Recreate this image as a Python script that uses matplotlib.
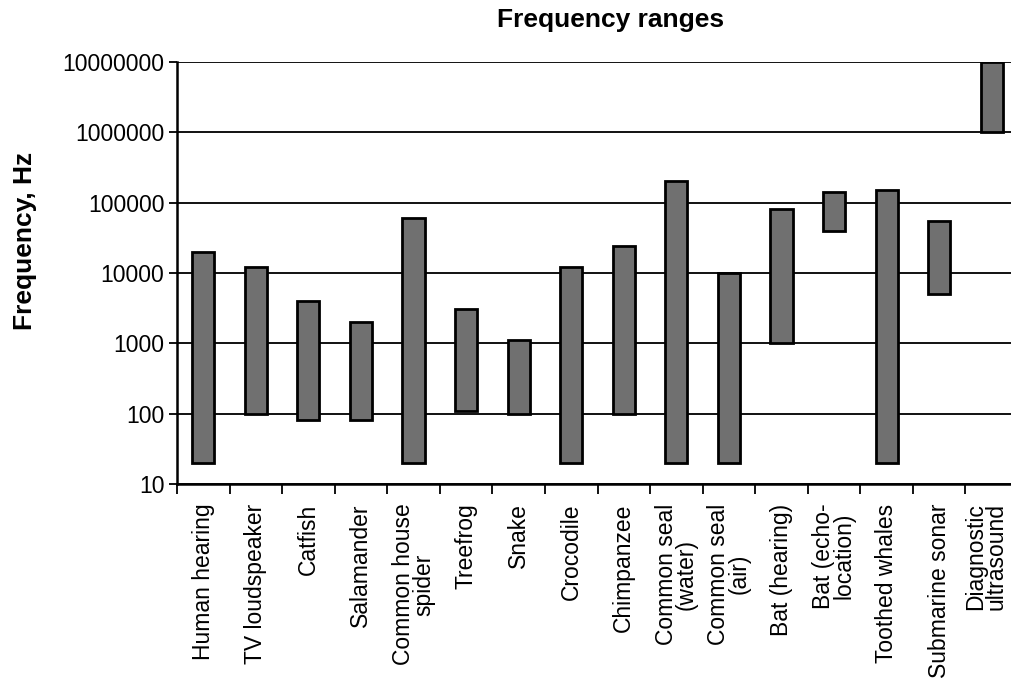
import numpy as np
import matplotlib
matplotlib.use("Agg")
import matplotlib.pyplot as plt
import matplotlib.transforms as mtransforms
from matplotlib.ticker import FixedLocator, NullLocator

plt.rcParams['font.family'] = ['Liberation Sans', 'DejaVu Sans']

categories = [
    "Human hearing", "TV loudspeaker", "Catfish", "Salamander",
    "Common house\nspider", "Treefrog", "Snake", "Crocodile", "Chimpanzee",
    "Common seal\n(water)", "Common seal\n(air)", "Bat (hearing)",
    "Bat (echo-\nlocation)", "Toothed whales", "Submarine sonar",
    "Diagnostic\nultrasound",
]
low_hz = [20, 100, 80, 80, 20, 110, 100, 20, 100, 20, 20, 1000, 40000, 20, 5000, 1000000]
high_hz = [20000, 12000, 4000, 2000, 60000, 3100, 1100, 12000, 24000, 200000,
           10000, 80000, 140000, 150000, 55000, 10000000]
y_ticks = [10, 100, 1000, 10000, 100000, 1000000, 10000000]
y_tick_labels = ["10", "100", "1000", "10000", "100000", "1000000", "10000000"]

fig = plt.figure(figsize=(10.11, 6.83), dpi=100)
ax = fig.add_axes([177 / 1011, 1 - 484 / 683, (1018 - 177) / 1011, (484 - 62) / 683])

x = np.arange(len(categories))
low = np.array(low_hz, dtype=float)
high = np.array(high_hz, dtype=float)
ax.bar(x, high - low, bottom=low, width=0.42, color="#707070",
       edgecolor="black", linewidth=2.0, zorder=3)

ax.set_yscale("log")
ax.set_ylim(10, 1e7)
ax.set_xlim(-0.5, len(categories) - 0.5)

ax.yaxis.set_major_locator(FixedLocator(y_ticks))
ax.yaxis.set_minor_locator(NullLocator())
ax.set_yticklabels(y_tick_labels, fontsize=16.5)
ax.yaxis.grid(True, color="#111111", linewidth=1.4, zorder=1)

ax.set_xticks(x)
ax.set_xticklabels(categories, rotation=90, fontsize=16.5, ha="center",
                   va="top", multialignment="center", linespacing=0.86)
ax.tick_params(axis="x", which="major", length=0, pad=14)
ax.xaxis.set_minor_locator(FixedLocator(np.arange(len(categories) + 1) - 0.5))
ax.tick_params(axis="x", which="minor", length=7, width=1.3, color="black")
ax.tick_params(axis="y", which="major", length=6, width=1.3, color="black", pad=3)

# nudge the rightmost label inward so it stays inside the figure
last = ax.get_xticklabels()[-1]
last.set_transform(last.get_transform() +
                   mtransforms.ScaledTranslation(-6 / 100, 0, fig.dpi_scale_trans))

for side in ("top", "right"):
    ax.spines[side].set_visible(False)
for side in ("left", "bottom"):
    ax.spines[side].set_linewidth(1.8)
    ax.spines[side].set_color("black")

fig.text(611 / 1011, 1 - 20 / 683, "Frequency ranges", ha="center", va="center",
         fontsize=19, fontweight="bold")
fig.text(25 / 1011, 1 - 241 / 683, "Frequency, Hz", ha="center", va="center",
         rotation=90, fontsize=19, fontweight="bold")

fig.savefig("out.png", dpi=100)
